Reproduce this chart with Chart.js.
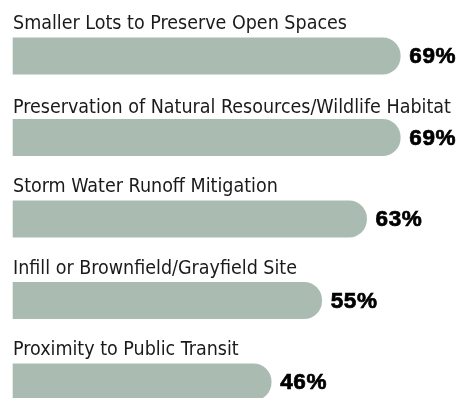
<!DOCTYPE html>
<html>
<head>
<meta charset="utf-8">
<script src="https://cdn.jsdelivr.net/npm/chart.js@4/dist/chart.umd.min.js"></script>
<style>
  html, body { margin: 0; padding: 0; background: #ffffff; }
  #wrap { width: 475px; height: 398px; position: relative; }
</style>
</head>
<body>
<div id="wrap"><canvas id="c"></canvas></div>
<script>
// Survey features and the share of respondents choosing each
const categories = [
  'Smaller Lots to Preserve Open Spaces',
  'Preservation of Natural Resources/Wildlife Habitat',
  'Storm Water Runoff Mitigation',
  'Infill or Brownfield/Grayfield Site',
  'Proximity to Public Transit'
];
const shares = [69, 69, 63, 55, 46];

const BAR_COLOR = '#aabcb1';
const TEXT_COLOR = '#1a1a1a';
const LABEL_FONT = '19.5px "DejaVu Sans Condensed", "Liberation Sans Narrow", sans-serif';
const VALUE_FONT = 'bold 22.5px "Liberation Sans", Arial, sans-serif';

// Draws the category name above each bar and the percentage after it
const barText = {
  id: 'barText',
  afterDatasetsDraw(chart) {
    const ctx = chart.ctx;
    const meta = chart.getDatasetMeta(0);
    const left = chart.chartArea.left;
    ctx.save();
    meta.data.forEach((bar, i) => {
      const top = bar.y - bar.height / 2;
      ctx.fillStyle = TEXT_COLOR;
      ctx.font = LABEL_FONT;
      ctx.textAlign = 'left';
      ctx.textBaseline = 'alphabetic';
      ctx.letterSpacing = '0px';
      ctx.fillText(categories[i], left, top - (i === 1 ? 6.5 : 8.5));

      ctx.font = VALUE_FONT;
      ctx.textBaseline = 'middle';
      ctx.letterSpacing = '0.6px';
      ctx.fillStyle = '#000000';
      ctx.lineWidth = 0.7;
      ctx.strokeStyle = '#000000';
      const txt = shares[i] + '%';
      ctx.strokeText(txt, bar.x + 9, bar.y + 1);
      ctx.fillText(txt, bar.x + 9, bar.y + 1);
    });
    ctx.restore();
  }
};

new Chart(document.getElementById('c'), {
  type: 'bar',
  data: {
    labels: categories,
    datasets: [{
      data: shares,
      backgroundColor: BAR_COLOR,
      borderWidth: 0,
      barThickness: 36.5,
      borderSkipped: 'start',
      borderRadius: { topLeft: 0, bottomLeft: 0, topRight: 18, bottomRight: 18 },
      clip: false
    }]
  },
  options: {
    indexAxis: 'y',
    responsive: true,
    maintainAspectRatio: false,
    animation: false,
    layout: { padding: { left: 13, right: 13, top: 56, bottom: 16 } },
    plugins: { legend: { display: false }, tooltip: { enabled: false } },
    scales: {
      x: { display: false, min: 0, max: 80 },
      y: { display: false, offset: false, grid: { display: false } }
    }
  },
  plugins: [barText]
});
</script>
</body>
</html>
